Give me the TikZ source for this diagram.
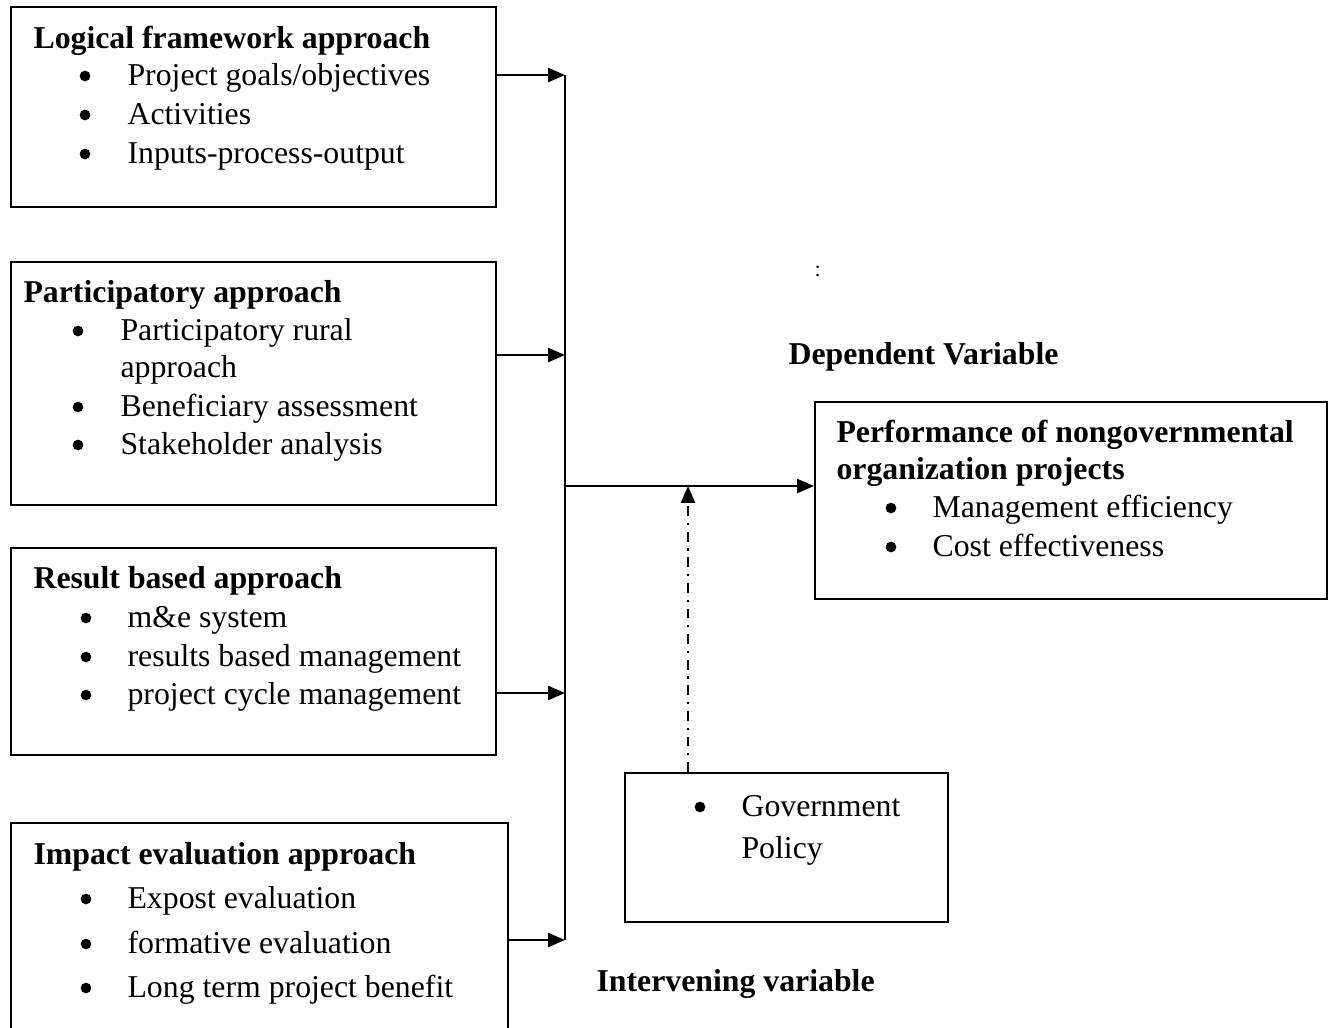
\documentclass[tikz,border=0pt]{standalone}
\usepackage{fontspec}
\setmainfont{Liberation Serif}
\usetikzlibrary{fit,arrows.meta}
\tikzset{
  box/.style={draw,line width=0.7pt,inner sep=0pt},
  txt/.style={anchor=base west,inner sep=0pt,font=\fontsize{11.3}{14}\selectfont},
  hd/.style={txt,font=\fontsize{11.3}{14}\selectfont\bfseries},
  dot/.style={circle,fill,inner sep=0pt,minimum size=3.8pt},
  arr/.style={line width=0.7pt,-{Triangle[length=6pt,width=5pt]}},
  dd/.style={line width=0.7pt,dash pattern=on 3.5pt off 2.4pt on 0.8pt off 2.4pt,
    -{Triangle[length=6pt,width=5pt]}}
}
\newcommand\blt[4]{% name, bullet x, text x, baseline y, text
  \node[dot] (#1b) at (#2,#4-9) {};
  \node[txt] (#1) at (#3,#4)}
\begin{document}
\begin{tikzpicture}[x=0.0125cm, y=-0.0125cm]
\useasboundingbox (0,0) rectangle (1330,1027);
% boxes
\node[box,fit={(11,7) (496,207)}] (logfw) {};
\node[box,fit={(11,262) (496,505)}] (partic) {};
\node[box,fit={(11,548) (496,755)}] (result) {};
\node[box,fit={(11,823) (508,1032)}] (impact) {};
\node[box,fit={(815,402) (1327,599)}] (perf) {};
\node[box,fit={(625,773) (948,922)}] (gov) {};

% logical framework
\node[hd] (logfwT) at (33,48) {Logical framework approach};
\blt{lf1}{85}{127}{85}{Project goals/objectives};
\blt{lf2}{85}{127}{124}{Activities};
\blt{lf3}{85}{127}{163}{Inputs-process-output};

% participatory
\node[hd] (particT) at (23,302) {Participatory approach};
\blt{pa1}{78}{120}{340}{Participatory rural};
\node[txt] (pa1b2) at (120,377) {approach};
\blt{pa2}{78}{120}{416}{Beneficiary assessment};
\blt{pa3}{78}{120}{454}{Stakeholder analysis};

% result based
\node[hd] (resultT) at (33,588) {Result based approach};
\blt{rb1}{86}{127}{627}{m\&e system};
\blt{rb2}{86}{127}{666}{results based management};
\blt{rb3}{86}{127}{704}{project cycle management};

% impact evaluation
\node[hd] (impactT) at (33,864) {Impact evaluation approach};
\blt{ie1}{86}{127}{908}{Expost evaluation};
\blt{ie2}{86}{127}{953}{formative evaluation};
\blt{ie3}{86}{127}{997}{Long term project benefit};

% dependent
\node[hd] (perfT1) at (836,442) {Performance of nongovernmental};
\node[hd] (perfT2) at (836,479) {organization projects};
\blt{pf1}{891}{932}{517}{Management efficiency};
\blt{pf2}{891}{932}{556}{Cost effectiveness};

% intervening
\blt{gv1}{700}{741}{816}{Government};
\node[txt] (gv2) at (741,858) {Policy};

\node[hd] (depL) at (788,364) {Dependent Variable};
\node[hd] (intL) at (596,991) {Intervening variable};
\node[txt,font=\fontsize{8}{9}\selectfont] (colon) at (814,276) {:};

% connectors
\coordinate (a1) at (565,75);
\coordinate (a2) at (565,355);
\coordinate (a3) at (565,693);
\coordinate (a4) at (565,940);
\coordinate (m) at (565,486);
\coordinate (j) at (688,486);
\draw[line width=0.7pt] (a1) -- (a4);
\draw[arr] (logfw.east |- a1) -- (a1);
\draw[arr] (partic.east |- a2) -- (a2);
\draw[arr] (result.east |- a3) -- (a3);
\draw[arr] (impact.east |- a4) -- (a4);
\draw[arr] (m) -- (perf.west |- m);
\draw[dd] (j |- gov.north) -- (j);
\end{tikzpicture}
\end{document}
